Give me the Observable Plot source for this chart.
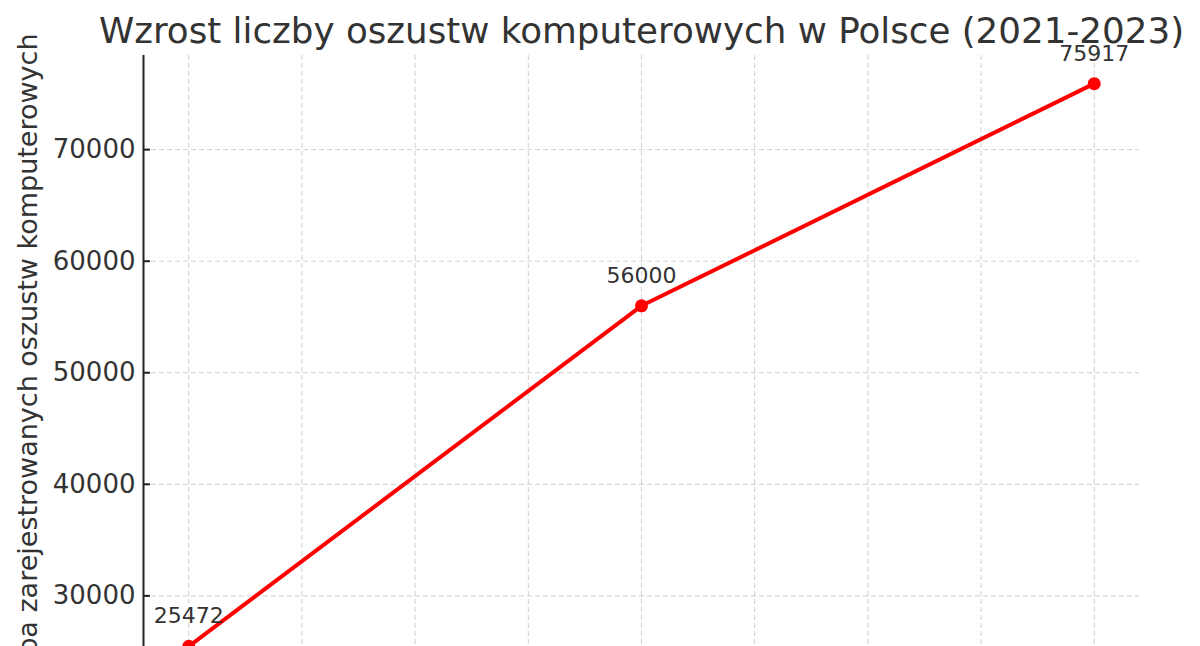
<!DOCTYPE html>
<html>
<head>
<meta charset="utf-8">
<script src="https://cdn.jsdelivr.net/npm/d3@7"></script>
<script src="https://cdn.jsdelivr.net/npm/@observablehq/plot@0.6"></script>
<style>
  html, body { margin: 0; padding: 0; background: #fff; overflow: hidden; }
  svg { display: block; }
</style>
</head>
<body>
<div id="chart"></div>
<script>
const years = [2021, 2022, 2023];
const counts = [25472, 56000, 75917];
const yTicks = [30000, 40000, 50000, 60000, 70000];
const xTicks = [2021, 2021.25, 2021.5, 2021.75, 2022, 2022.25, 2022.5, 2022.75, 2023];
const titleText = "Wzrost liczby oszustw komputerowych w Polsce (2021-2023)";
const yLabel = "Liczba zarejestrowanych oszustw komputerowych";

const data = years.map((y, i) => ({year: y, value: counts[i]}));
const pad = 0.05;
const xSpan = years[years.length - 1] - years[0];
const ySpan = d3.max(counts) - d3.min(counts);
const xDomain = [years[0] - pad * xSpan, years[years.length - 1] + pad * xSpan];
const yDomain = [d3.min(counts) - pad * ySpan, d3.max(counts) + pad * ySpan];

const font = "DejaVu Sans, sans-serif";
const textColor = "#333333";

const chart = Plot.plot({
  width: 1200,
  height: 646,
  marginLeft: 143,
  marginRight: 61,
  marginTop: 55,
  marginBottom: 0,
  style: {fontFamily: font, color: textColor, background: "#fff"},
  x: {domain: xDomain, range: [143, 1139], axis: null},
  y: {domain: yDomain, range: [674, 55], axis: null},
  marks: [
    Plot.gridX(xTicks, {stroke: "#b0b0b0", strokeOpacity: 0.6, strokeDasharray: "5,3", strokeWidth: 1}),
    Plot.gridY(yTicks, {stroke: "#b0b0b0", strokeOpacity: 0.6, strokeDasharray: "5,3", strokeWidth: 1}),
    Plot.ruleX([xDomain[0]], {stroke: "#222", strokeWidth: 2}),
    Plot.axisY(yTicks, {
      anchor: "left", tickSize: 7, dx: 7, tickPadding: 8,
      tickFormat: d => String(d), fontSize: 26, fill: textColor, stroke: "#222", strokeWidth: 2, label: null
    }),
    Plot.line(data, {x: "year", y: "value", stroke: "red", strokeWidth: 4}),
    Plot.dot(data, {x: "year", y: "value", r: 6.5, fill: "red", stroke: "none"}),
    Plot.text(data, {x: "year", y: "value", text: d => String(d.value), dy: -30, fontSize: 22, fill: textColor}),
    Plot.text([titleText], {frameAnchor: "top", dy: -13, lineAnchor: "bottom", fontSize: 35.7, fill: textColor}),
    Plot.text([yLabel], {frameAnchor: "top-left", dx: -107, dy: -22, rotate: -90, textAnchor: "end", lineAnchor: "bottom", fontSize: 27, fill: textColor})
  ]
});
document.getElementById("chart").appendChild(chart);
</script>
</body>
</html>
